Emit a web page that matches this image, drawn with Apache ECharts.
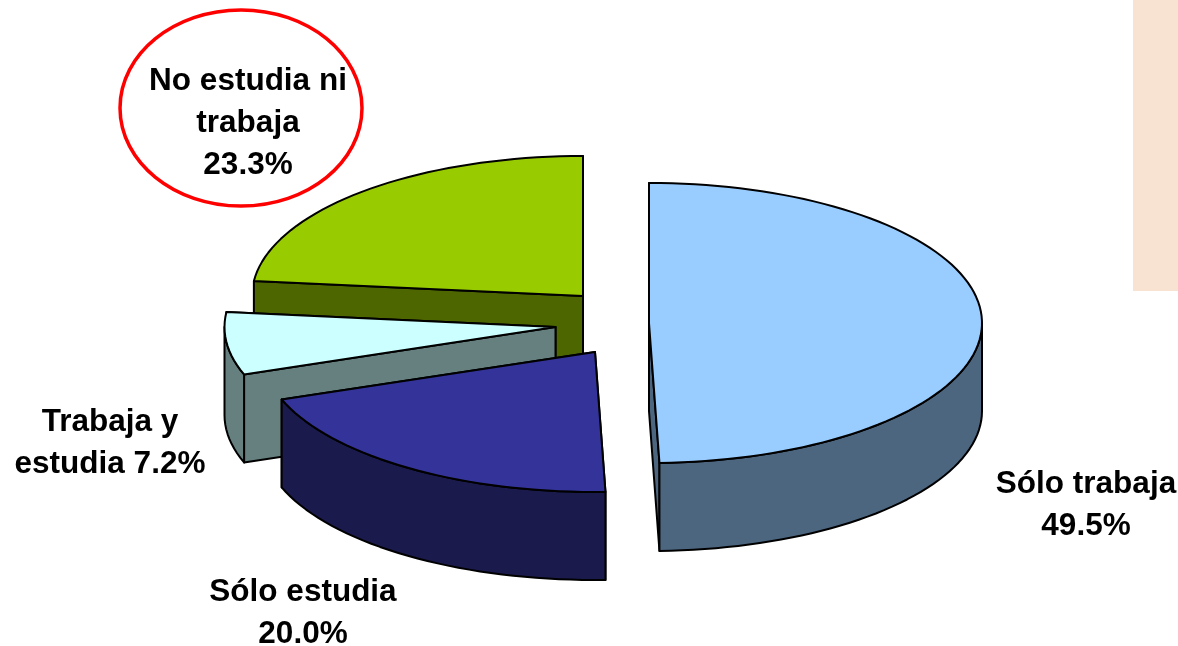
<!DOCTYPE html>
<html>
<head>
<meta charset="utf-8">
<style>
html, body { margin: 0; padding: 0; background: #fff; }
#chart { width: 1178px; height: 646px; }
</style>
<script src="https://cdn.jsdelivr.net/npm/echarts@6/dist/echarts.min.js"></script>
</head>
<body>
<div id="chart"></div>
<script>
// datos
const categories = ['Sólo trabaja', 'Sólo estudia', 'Trabaja y estudia', 'No estudia ni trabaja']
const seriesValues = [49.5, 20.0, 7.2, 23.3]
const labelTexts = ['Sólo trabaja\n49.5%', 'Sólo estudia\n20.0%', 'Trabaja y\nestudia 7.2%', 'No estudia ni\ntrabaja\n23.3%']

// estilos y posicion de cada porcion
const topColors = ['#99ccff', '#333399', '#ccffff', '#99cc00']
const wallColors = ['#4d6680', '#1a1a4d', '#668080', '#4d6600']
const apex = [[649, 323], [595, 352], [555.5, 327], [583, 296]]
const radiusX = [333, 333, 331, 331]
const labelPos = [[1086, 505], [303, 613], [110, 443], [248, 123]]
const ry = 140
const depth = 88

const total = seriesValues.reduce((a, b) => a + b, 0)

function toAngle(v) {
    return echarts.number.linearMap(v, [0, total], [0, 360])
}

function point(c, rx, deg, dy) {
    const r = deg * Math.PI / 180
    return [c[0] + rx * Math.sin(r), c[1] - ry * Math.cos(r) + (dy || 0)]
}

function arc(c, rx, from, to, dy) {
    const pts = []
    const n = Math.max(2, Math.ceil((to - from) / 2))
    for (let i = 0; i <= n; i++) {
        pts.push(point(c, rx, from + (to - from) * i / n, dy))
    }
    return pts
}

function poly(points, fill) {
    return {
        type: 'polygon',
        shape: { points: points },
        style: { fill: fill, stroke: '#000', lineWidth: 2, lineJoin: 'round' }
    }
}

function face(c, rx, deg, fill) {
    const a = point(c, rx, deg)
    return poly([c, a, [a[0], a[1] + depth], [c[0], c[1] + depth]], fill)
}

function renderSlice(params, api) {
    const i = api.value(1)
    let before = 0
    for (let k = 0; k < i; k++) before += seriesValues[k]
    const start = toAngle(before)
    const end = toAngle(before + api.value(0))
    const c = apex[i]
    const rx = radiusX[i]
    const children = [face(c, rx, end, wallColors[i]), face(c, rx, start, wallColors[i])]

    // pared exterior, solo la mitad delantera de la elipse
    const wallFrom = Math.max(start, 90)
    const wallTo = Math.min(end, 270)
    if (wallTo > wallFrom) {
        const upper = arc(c, rx, wallFrom, wallTo, 0)
        const lower = arc(c, rx, wallFrom, wallTo, depth).reverse()
        children.push(poly(upper.concat(lower), wallColors[i]))
    }

    children.push(poly([c].concat(arc(c, rx, start, end, 0)), topColors[i]))
    return { type: 'group', children: children }
}

function renderLabel(params, api) {
    const i = api.value(1)
    return {
        type: 'text',
        style: {
            text: labelTexts[i],
            x: labelPos[i][0],
            y: labelPos[i][1],
            fill: '#000',
            font: 'bold 31.5px "Liberation Sans", Arial, sans-serif',
            lineHeight: 42,
            textAlign: 'center',
            textVerticalAlign: 'middle'
        }
    }
}

// se dibuja de atras hacia adelante
const drawData = categories.map((name, i) => ({ name: name, value: [seriesValues[i], i] })).reverse()

const myChart = echarts.init(document.getElementById('chart'), null, { renderer: 'canvas' })
myChart.setOption({
    animation: false,
    backgroundColor: '#fff',
    graphic: [
        {
            type: 'rect',
            z: 0,
            shape: { x: 1133, y: 0, width: 45, height: 291 },
            style: { fill: '#f8e2d1' }
        },
        {
            type: 'ellipse',
            z: 0,
            shape: { cx: 241, cy: 108, rx: 121, ry: 98 },
            style: { fill: '#fff', stroke: '#f00', lineWidth: 3.5 }
        }
    ],
    series: [
        {
            type: 'custom',
            coordinateSystem: 'none',
            z: 2,
            silent: true,
            data: drawData,
            renderItem: renderSlice
        },
        {
            type: 'custom',
            coordinateSystem: 'none',
            z: 3,
            silent: true,
            data: drawData,
            renderItem: renderLabel
        }
    ]
})
</script>
</body>
</html>
